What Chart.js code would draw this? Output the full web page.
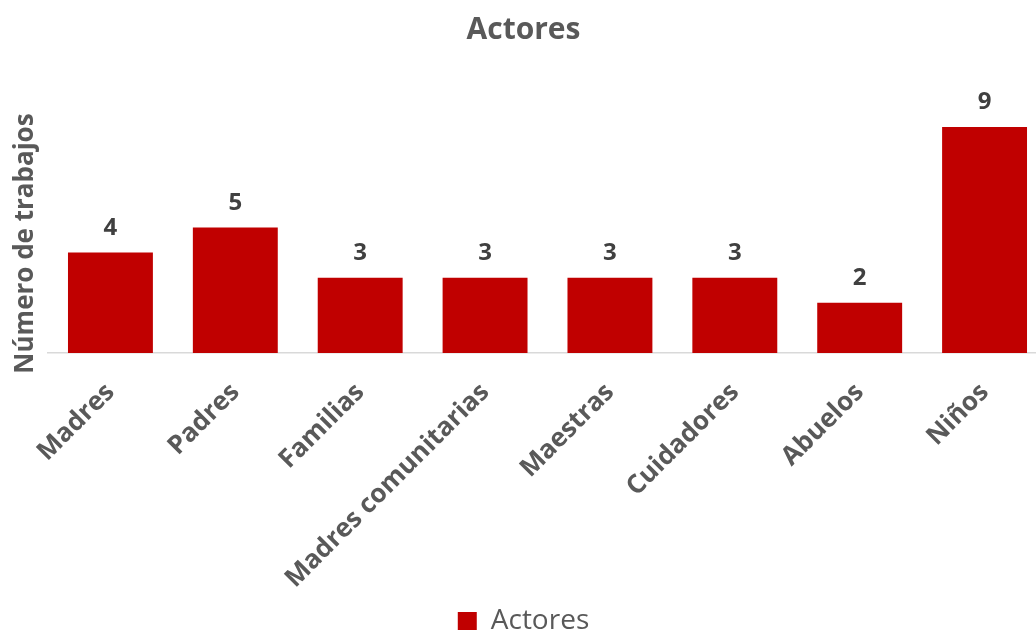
<!DOCTYPE html>
<html><head><meta charset="utf-8">
<script src="https://cdn.jsdelivr.net/npm/chart.js@4/dist/chart.umd.min.js"></script>
<style>html,body{margin:0;padding:0;overflow:hidden;background:#fff}</style>
</head><body>
<canvas id="c" width="1048" height="633"></canvas>
<script>
const categories = ['Madres','Padres','Familias','Madres comunitarias','Maestras','Cuidadores','Abuelos','Niños'];
const values = [4,5,3,3,3,3,2,9];
const seriesName = 'Actores';
const chartTitle = 'Actores';
const yTitle = 'Número de trabajos';

const FONT = "'Open Sans', sans-serif";
const barColor = '#C00000';

const dataLabels = {
  id: 'dataLabels',
  afterDatasetsDraw(chart) {
    const ctx = chart.ctx;
    const meta = chart.getDatasetMeta(0);
    ctx.save();
    ctx.font = "bold 24px " + FONT;
    ctx.fillStyle = '#404040';
    ctx.textAlign = 'center';
    ctx.textBaseline = 'alphabetic';
    meta.data.forEach((bar, i) => {
      ctx.fillText(String(values[i]), bar.x, bar.y - 18);
    });
    ctx.restore();
  }
};

const yAxisTitle = {
  id: 'yAxisTitle',
  afterDraw(chart) {
    const ctx = chart.ctx;
    const area = chart.chartArea;
    ctx.save();
    ctx.font = "bold 26px " + FONT;
    ctx.fillStyle = '#595959';
    ctx.textAlign = 'center';
    ctx.textBaseline = 'middle';
    ctx.translate(26, (area.top + area.bottom) / 2 + 16);
    ctx.rotate(-Math.PI / 2);
    ctx.fillText(yTitle, 0, 0);
    ctx.restore();
  }
};

new Chart(document.getElementById('c'), {
  type: 'bar',
  data: {
    labels: categories,
    datasets: [{
      label: seriesName,
      data: values,
      backgroundColor: barColor,
      borderWidth: 0,
      barPercentage: 0.68,
      categoryPercentage: 1.0
    }]
  },
  options: {
    responsive: false,
    animation: false,
    layout: { padding: { left: 0, right: 1, top: 0, bottom: -12 } },
    plugins: {
      title: {
        display: true, text: chartTitle, color: '#595959',
        font: { family: FONT, size: 30, weight: 'bold' },
        padding: { top: 12, bottom: 54 }
      },
      legend: {
        display: true, position: 'bottom',
        labels: {
          color: '#595959', font: { family: FONT, size: 28 },
          boxWidth: 19, boxHeight: 18, padding: 2
        }
      },
      tooltip: { enabled: false }
    },
    scales: {
      x: {
        afterFit(scale) { scale.height = 252; },
        grid: { display: false, drawTicks: false },
        border: { display: true, color: '#d9d9d9', width: 1.5 },
        ticks: {
          color: '#595959', font: { family: FONT, size: 26, weight: 'bold' },
          maxRotation: 45, minRotation: 45, autoSkip: false, padding: 24
        }
      },
      y: {
        min: 0, max: 10,
        afterFit(scale) { scale.width = 48; },
        grid: { display: false },
        border: { display: false },
        ticks: { display: false },
        title: { display: false }
      }
    }
  },
  plugins: [dataLabels, yAxisTitle]
});
</script>
</body></html>
